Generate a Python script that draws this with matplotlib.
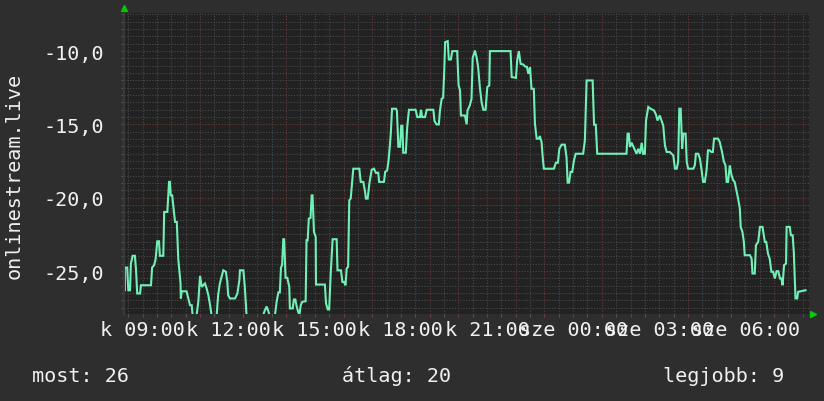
import numpy as np
import matplotlib
matplotlib.use("Agg")
from matplotlib import pyplot as plt
from matplotlib.ticker import MultipleLocator

# time in hours since Tuesday 00:00
hours = [
    8.38, 8.38, 8.46, 8.50, 8.56, 8.59, 8.65, 8.73, 8.77, 8.81,
    8.91, 8.94, 9.29, 9.33, 9.40, 9.45, 9.51, 9.57, 9.60, 9.72,
    9.75, 9.86, 9.92, 9.95, 9.98, 10.03, 10.09, 10.13, 10.19, 10.24,
    10.32, 10.33, 10.36, 10.53, 10.59, 10.65, 10.71, 10.74, 10.88, 10.94,
    11.00, 11.06, 11.17, 11.23, 11.29, 11.35, 11.40, 11.58, 11.63, 11.69,
    11.81, 11.90, 11.95, 11.98, 12.04, 12.22, 12.30, 12.37, 12.39, 12.51,
    12.56, 12.62, 13.20, 13.26, 13.32, 13.38, 13.42, 13.61, 13.67, 13.73,
    13.78, 13.82, 13.86, 13.90, 13.93, 13.98, 14.04, 14.11, 14.13, 14.23,
    14.27, 14.32, 14.37, 14.42, 14.46, 14.51, 14.56, 14.68, 14.71, 14.75,
    14.79, 14.85, 14.89, 14.92, 14.97, 15.03, 15.04, 15.35, 15.39, 15.45,
    15.50, 15.55, 15.62, 15.76, 15.79, 15.91, 15.96, 16.01, 16.07, 16.11,
    16.16, 16.20, 16.25, 16.28, 16.34, 16.55, 16.60, 16.69, 16.75, 16.78,
    16.84, 16.90, 16.98, 17.06, 17.13, 17.21, 17.24, 17.41, 17.45, 17.52,
    17.57, 17.62, 17.65, 17.69, 17.83, 17.86, 17.91, 17.97, 18.01, 18.05,
    18.08, 18.17, 18.22, 18.28, 18.51, 18.57, 18.66, 18.70, 18.74, 18.84,
    18.90, 19.13, 19.17, 19.24, 19.32, 19.36, 19.42, 19.47, 19.51, 19.54,
    19.63, 19.67, 19.74, 19.79, 19.96, 20.01, 20.06, 20.09, 20.23, 20.29,
    20.32, 20.40, 20.46, 20.50, 20.58, 20.64, 20.69, 20.75, 20.81, 20.87,
    20.95, 21.01, 21.08, 21.10, 21.82, 21.86, 22.01, 22.05, 22.11, 22.17,
    22.26, 22.33, 22.39, 22.44, 22.50, 22.55, 22.63, 22.67, 22.73, 22.81,
    22.84, 22.90, 22.94, 22.98, 23.33, 23.40, 23.47, 23.52, 23.60, 23.71,
    23.77, 23.81, 23.86, 23.91, 23.97, 24.03, 24.09, 24.35, 24.41, 24.47,
    24.68, 24.73, 24.79, 24.84, 25.86, 25.90, 25.94, 25.98, 26.04, 26.09,
    26.21, 26.27, 26.33, 26.39, 26.44, 26.50, 26.54, 26.62, 26.70, 26.82,
    26.89, 26.94, 27.02, 27.08, 27.14, 27.20, 27.26, 27.37, 27.43, 27.49,
    27.55, 27.61, 27.66, 27.70, 27.75, 27.80, 27.84, 27.92, 27.96, 28.01,
    28.19, 28.24, 28.28, 28.36, 28.42, 28.47, 28.53, 28.59, 28.65, 28.70,
    28.76, 28.82, 28.87, 28.91, 29.05, 29.11, 29.19, 29.25, 29.31, 29.35,
    29.40, 29.46, 29.52, 29.58, 29.63, 29.69, 29.75, 29.81, 29.84, 29.90,
    29.95, 29.98, 30.16, 30.22, 30.25, 30.33, 30.37, 30.45, 30.51, 30.60,
    30.68, 30.73, 30.79, 30.85, 30.91, 30.97, 31.03, 31.09, 31.15, 31.21,
    31.26, 31.30, 31.35, 31.42, 31.44, 31.55, 31.59, 31.65, 31.69, 31.75,
    31.81, 31.84, 32.10,
]
values = [
    -26.31, -24.76, -24.76, -26.31, -26.31, -24.49, -23.96, -23.96, -24.95, -26.53,
    -26.53, -25.97, -25.97, -24.76, -24.60, -24.20, -22.97, -22.97, -23.96, -23.96,
    -20.97, -20.97, -18.92, -18.92, -19.84, -19.84, -20.97, -21.65, -21.65, -24.15,
    -25.85, -26.87, -26.38, -26.38, -26.87, -27.33, -27.33, -28.0, -28.0, -27.08,
    -25.33, -26.08, -25.85, -26.19, -26.65, -27.33, -28.0, -28.0, -26.65, -25.85,
    -24.95, -25.05, -25.74, -26.65, -26.87, -26.87, -26.53, -25.63, -24.95, -24.95,
    -26.08, -28.0, -28.0, -27.67, -27.42, -27.74, -28.0, -28.0, -27.08, -26.46,
    -26.46, -24.76, -24.60, -22.83, -22.83, -25.46, -25.46, -26.08, -27.55, -27.55,
    -26.94, -26.94, -27.44, -27.78, -28.0, -27.33, -27.10, -27.06, -22.90, -22.90,
    -21.42, -21.38, -19.84, -19.84, -22.33, -22.67, -25.92, -25.92, -27.21, -27.62,
    -27.62, -25.29, -22.83, -22.83, -24.95, -24.95, -25.74, -25.74, -25.97, -24.83,
    -24.71, -20.18, -20.06, -19.38, -18.02, -18.02, -18.92, -18.92, -19.60, -20.06,
    -20.06, -19.04, -18.09, -18.02, -18.31, -18.29, -18.92, -18.92, -18.24, -18.13,
    -17.45, -16.31, -15.52, -13.93, -13.93, -14.07, -16.52, -16.52, -15.09, -15.09,
    -16.93, -16.93, -15.16, -14.00, -14.00, -14.50, -14.50, -14.00, -14.50, -14.50,
    -14.00, -14.00, -14.77, -15.00, -15.00, -14.05, -13.25, -13.18, -11.32, -9.39,
    -9.32, -10.57, -10.57, -10.00, -10.00, -12.34, -12.68, -14.39, -14.39, -15.00,
    -14.05, -13.71, -13.25, -10.46, -9.96, -10.46, -11.09, -12.45, -13.47, -14.00,
    -14.00, -12.45, -12.34, -10.00, -10.00, -11.77, -11.82, -10.64, -10.00, -10.87,
    -10.91, -11.05, -11.07, -11.55, -11.09, -12.57, -12.57, -14.95, -15.97, -15.97,
    -15.79, -16.20, -17.22, -18.02, -18.02, -17.61, -17.61, -16.66, -16.38, -16.38,
    -17.22, -18.97, -18.97, -18.24, -18.24, -17.45, -17.00, -17.00, -16.09, -12.00,
    -12.00, -15.02, -15.02, -17.00, -17.00, -15.63, -15.63, -16.54, -16.25, -16.47,
    -17.00, -16.66, -17.00, -16.25, -17.00, -17.00, -14.73, -13.81, -13.93, -14.05,
    -14.34, -14.73, -14.39, -14.73, -15.07, -16.43, -16.88, -16.88, -17.00, -17.11,
    -18.02, -18.02, -17.56, -13.93, -13.93, -16.66, -15.63, -15.63, -17.56, -18.02,
    -18.02, -17.79, -17.00, -17.00, -17.34, -18.02, -18.92, -18.92, -18.13, -16.77,
    -16.77, -16.88, -16.88, -15.97, -15.97, -16.20, -16.88, -17.52, -17.79, -18.92,
    -18.92, -17.79, -18.47, -18.81, -18.92, -19.50, -20.06, -20.74, -21.99, -22.33,
    -23.01, -23.92, -23.92, -24.15, -25.17, -25.17, -23.24, -23.01, -21.99, -21.99,
    -23.01, -23.01, -23.81, -24.15, -25.05, -25.05, -25.51, -25.01, -25.01, -25.51,
    -25.51, -25.97, -24.60, -24.49, -21.99, -21.99, -22.56, -22.56, -23.69, -26.87,
    -26.87, -26.42, -26.31,
]
assert len(hours) == len(values)

tick_hours = [9, 12, 15, 18, 21, 24, 27, 30]
tick_labels = ["k 09:00", "k 12:00", "k 15:00", "k 18:00", "k 21:00",
               "sze 00:00", "sze 03:00", "sze 06:00"]
y_ticks = [-25, -20, -15, -10]
y_labels = ["-25,0", "-20,0", "-15,0", "-10,0"]
legend_texts = ["most: 26", "átlag: 20", "legjobb: 9"]

W, H = 824, 402
back = '#2e2e2e'
canvas = '#222222'
fg = '#f0f0f0'
mono = 'DejaVu Sans Mono'
fsize = 14.5

fig = plt.figure(figsize=(W / 100, H / 100), dpi=100, facecolor=back)
ax = fig.add_axes([124 / W, 1 - 315 / H, (809 - 124) / W, (315 - 14) / H])
ax.set_facecolor(canvas)

ax.set_xlim(8.35, 32.22)
ax.set_ylim(-27.93, -7.4)

# grid: minor gray, major reddish, both dotted
ax.xaxis.set_minor_locator(MultipleLocator(0.5))
ax.yaxis.set_minor_locator(MultipleLocator(0.5))
ax.set_xticks(np.arange(9, 33))
ax.set_xticklabels([tick_labels[tick_hours.index(h)] if h in tick_hours else ""
                    for h in range(9, 33)])
ax.set_yticks(y_ticks)
ax.set_yticklabels(y_labels)
ax.grid(which='minor', color='#4a4a4a', linestyle=(0, (1, 1.5)), linewidth=0.8)
ax.grid(which='major', color='#6e3636', linestyle=(0, (1, 1.5)), linewidth=0.8)
ax.set_axisbelow(True)

ax.tick_params(which='both', length=2, width=0.8, color='#555555')
ax.tick_params(axis='x', which='major', color='#743a3a', pad=2)
ax.tick_params(labelsize=fsize, labelcolor=fg)
ax.tick_params(axis='y', pad=12)
for lab in ax.get_xticklabels() + ax.get_yticklabels():
    lab.set_fontfamily(mono)

for side in ['top', 'right', 'bottom']:
    ax.spines[side].set_visible(False)
ax.spines['left'].set_color('#3a3a3a')
ax.spines['left'].set_linewidth(1.5)

ax.plot(hours, values, color='#6ff0b6', linewidth=1.5, solid_joinstyle='miter')

# arrow heads at the axis ends
ax.plot([0], [1.015], marker='^', color='#00cc00', markersize=5,
        transform=ax.transAxes, clip_on=False)
ax.plot([1.006], [0], marker='>', color='#00cc00', markersize=5,
        transform=ax.transAxes, clip_on=False)

fig.text(14 / W, 1 - 176 / H, "onlinestream.live", rotation=90, ha='center',
         va='center', color=fg, fontsize=fsize, family=mono)

for x, s in zip([32, 342, 663], legend_texts):
    fig.text(x / W, 1 - 382 / H, s, ha='left', va='baseline', color=fg,
             fontsize=fsize, family=mono)

plt.savefig('out.png', dpi=100, facecolor=back)
plt.close()
